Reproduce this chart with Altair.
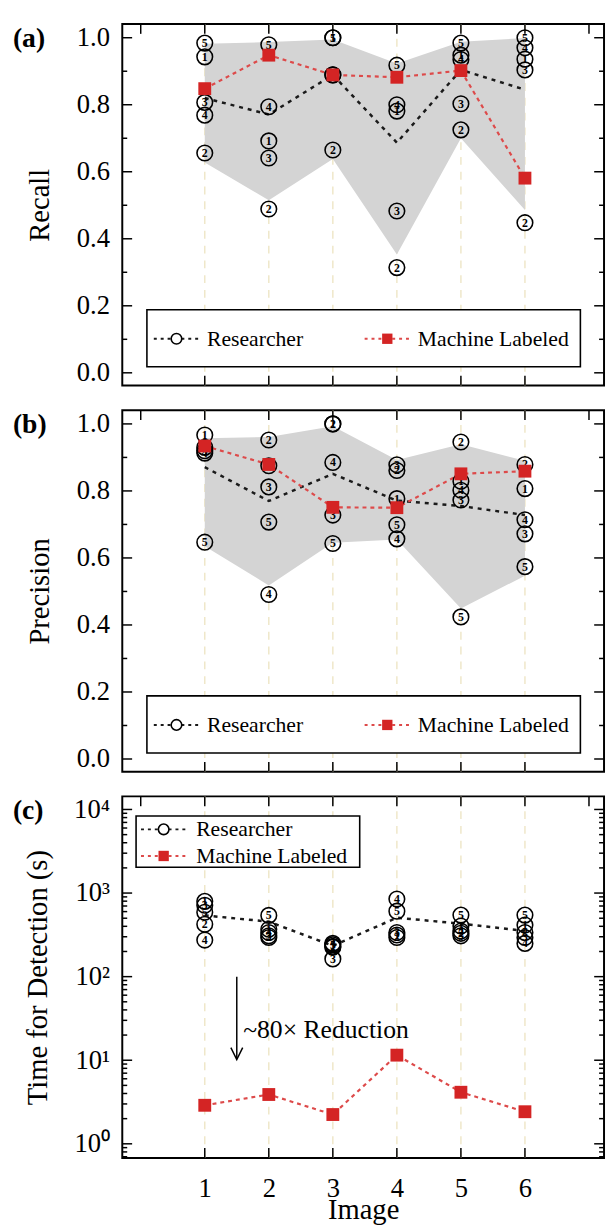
import altair as alt
import pandas as pd

# ---------------- data ----------------
images = [1, 2, 3, 4, 5, 6]

# (a) Recall, one list per researcher (value for images 1..6)
recall_r1 = [0.943, 0.692, 1.000, 0.781, 0.948, 0.936]
recall_r2 = [0.656, 0.489, 0.665, 0.314, 0.725, 0.448]
recall_r3 = [0.807, 0.641, 0.889, 0.483, 0.803, 0.904]
recall_r4 = [0.769, 0.794, 0.889, 0.800, 0.935, 0.970]
recall_r5 = [0.984, 0.979, 1.000, 0.918, 0.984, 1.000]
recall_mean = [0.820, 0.771, 0.889, 0.687, 0.904, 0.845]
recall_machine = [0.848, 0.948, 0.889, 0.882, 0.902, 0.581]
recall_band_low = [0.628, 0.515, 0.638, 0.353, 0.700, 0.486]
recall_band_high = [0.982, 0.987, 0.995, 0.923, 0.988, 0.999]

# (b) Precision
prec_r1 = [0.967, 0.875, 1.000, 0.777, 0.829, 0.807]
prec_r2 = [0.930, 0.952, 1.000, 0.861, 0.946, 0.879]
prec_r3 = [0.920, 0.812, 0.728, 0.878, 0.773, 0.672]
prec_r4 = [0.913, 0.491, 0.885, 0.657, 0.802, 0.714]
prec_r5 = [0.647, 0.707, 0.643, 0.699, 0.424, 0.574]
prec_mean = [0.871, 0.770, 0.851, 0.771, 0.755, 0.728]
prec_machine = [0.934, 0.879, 0.751, 0.750, 0.851, 0.859]
prec_band_low = [0.635, 0.518, 0.645, 0.655, 0.449, 0.547]
prec_band_high = [0.957, 0.961, 0.993, 0.892, 0.939, 0.890]

# (c) Time for detection (s)
time_r1 = [796, 369, 230, 315, 404, 415]
time_r2 = [423, 294, 225, 294, 330, 337]
time_r3 = [714, 308, 163, 337, 308, 294]
time_r4 = [274, 337, 250, 850, 352, 250]
time_r5 = [590, 540, 240, 607, 545, 545]
time_mean = [540, 455, 234, 507, 430, 352]
time_machine = [2.89, 3.89, 2.24, 11.5, 4.14, 2.42]

# tick positions
lin_major = [0.0, 0.2, 0.4, 0.6, 0.8, 1.0]
lin_minor = [0.1, 0.3, 0.5, 0.7, 0.9]
log_major = [1, 10, 100, 1000, 10000]
log_minor = [0.7, 0.8, 0.9, 2, 3, 4, 5, 6, 7, 8, 9, 20, 30, 40, 50, 60, 70, 80, 90,
             200, 300, 400, 500, 600, 700, 800, 900, 2000, 3000, 4000, 5000, 6000, 7000, 8000, 9000]
x_top_ticks = [0, 1, 2, 3, 4, 5, 6, 7]
x_bottom_ticks = [1, 2, 3, 4, 5, 6]
x_labels = [1, 2, 3, 4, 5, 6]

legend_labels = ["Researcher", "Machine Labeled"]

# ---------------- styling ----------------
W, H = 489, 367
FONT = "Liberation Serif"
BEIGE = "#efe7c9"
GREY = "#d4d4d4"
RED = "#d42424"
RED_LINE = "#dd4a4a"

xscale = alt.Scale(domain=[-0.288, 7.235], nice=False, zero=False)


def long_table(rs):
    rows = []
    for rid, vals in enumerate(rs, start=1):
        for img, v in zip(images, vals):
            rows.append({"image": img, "value": v, "rid": str(rid)})
    return pd.DataFrame(rows)


def panel(letter, ytitle, rs, mean, machine, band, yscale, yaxis, major, minor, legend, show_x):
    if show_x:
        xaxis = alt.Axis(values=x_labels, format="d", ticks=False, domain=False, grid=False,
                         labelFont=FONT, labelFontSize=27, labelColor="black", labelPadding=18,
                         titleFont=FONT, titleFontSize=29, titleFontWeight="normal", titleColor="black",
                         titleY=61, titleBaseline="alphabetic")
        xtitle = "Image"
    else:
        xaxis = None
        xtitle = None

    def X(field):
        return alt.X(field, type="quantitative", scale=xscale, axis=xaxis, title=xtitle)

    def Y(field):
        return alt.Y(field, type="quantitative", scale=yscale, axis=yaxis, title=ytitle)

    layers = []
    img_df = pd.DataFrame({"image": images})
    layers.append(alt.Chart(img_df).mark_rule(color=BEIGE, strokeDash=[8, 7], strokeWidth=1.5)
                  .encode(x=X("image"), y=alt.value(0), y2=alt.value(H)))
    if band is not None:
        band_df = pd.DataFrame({"image": images, "low": band[0], "high": band[1]})
        layers.append(alt.Chart(band_df).mark_area(color=GREY, opacity=1)
                      .encode(x=X("image"), y=Y("low"), y2=alt.Y2("high")))
    mean_df = pd.DataFrame({"image": images, "value": mean})
    layers.append(alt.Chart(mean_df).mark_line(color="#1a1a1a", strokeDash=[4, 5], strokeWidth=2.5)
                  .encode(x=X("image"), y=Y("value")))
    mach_df = pd.DataFrame({"image": images, "value": machine})
    layers.append(alt.Chart(mach_df).mark_line(color=RED_LINE, strokeDash=[4, 4], strokeWidth=2.2)
                  .encode(x=X("image"), y=Y("value")))
    ldf = long_table(rs)
    layers.append(alt.Chart(ldf).mark_point(shape="circle", filled=False, color="black",
                                            strokeWidth=1.6, size=250, opacity=1)
                  .encode(x=X("image"), y=Y("value")))
    layers.append(alt.Chart(ldf).mark_text(font=FONT, fontSize=12, fontWeight="bold", color="black",
                                           baseline="middle", align="center")
                  .encode(x=X("image"), y=Y("value"), text="rid:N"))
    layers.append(alt.Chart(mach_df).mark_point(shape="square", filled=True, color=RED, size=170, opacity=1)
                  .encode(x=X("image"), y=Y("value")))

    # inward frame ticks
    maj_df = pd.DataFrame({"v": major})
    min_df = pd.DataFrame({"v": minor})
    tick_style = dict(color="black", strokeWidth=1.5)
    layers.append(alt.Chart(maj_df).mark_rule(**tick_style).encode(y=Y("v"), x=alt.value(0), x2=alt.value(10)))
    layers.append(alt.Chart(maj_df).mark_rule(**tick_style).encode(y=Y("v"), x=alt.value(W - 10), x2=alt.value(W)))
    layers.append(alt.Chart(min_df).mark_rule(**tick_style).encode(y=Y("v"), x=alt.value(0), x2=alt.value(5)))
    layers.append(alt.Chart(min_df).mark_rule(**tick_style).encode(y=Y("v"), x=alt.value(W - 5), x2=alt.value(W)))
    top_df = pd.DataFrame({"t": x_top_ticks})
    bot_df = pd.DataFrame({"t": x_bottom_ticks})
    layers.append(alt.Chart(top_df).mark_rule(**tick_style).encode(x=X("t"), y=alt.value(0), y2=alt.value(10)))
    layers.append(alt.Chart(bot_df).mark_rule(**tick_style).encode(x=X("t"), y=alt.value(H - 10), y2=alt.value(H)))

    # legend (drawn by hand)
    one = pd.DataFrame({"a": [0]})
    bx0, bx1, by0, by1, rows = legend
    layers.append(alt.Chart(one).mark_rect(fill="white", stroke="black", strokeWidth=1.6)
                  .encode(x=alt.value(bx0), x2=alt.value(bx1), y=alt.value(by0), y2=alt.value(by1)))
    for (lx0, lx1, mx, tx, ly), lab in zip(rows, legend_labels):
        is_r = lab == "Researcher"
        layers.append(alt.Chart(one).mark_rule(color="#1a1a1a" if is_r else RED_LINE,
                                               strokeDash=[3, 4], strokeWidth=2)
                      .encode(x=alt.value(lx0), x2=alt.value(lx1), y=alt.value(ly)))
        if is_r:
            layers.append(alt.Chart(one).mark_point(shape="circle", filled=False, fill="white", color="black",
                                                    strokeWidth=1.6, size=115, opacity=1)
                          .encode(x=alt.value(mx), y=alt.value(ly)))
        else:
            layers.append(alt.Chart(one).mark_point(shape="square", filled=True, color=RED, size=110, opacity=1)
                          .encode(x=alt.value(mx), y=alt.value(ly)))
        tdf = pd.DataFrame({"label": [lab]})
        layers.append(alt.Chart(tdf).mark_text(font=FONT, fontSize=22, color="black", align="left",
                                               baseline="middle")
                      .encode(x=alt.value(tx), y=alt.value(ly), text="label:N"))

    # panel letter
    let_df = pd.DataFrame({"label": [letter]})
    layers.append(alt.Chart(let_df).mark_text(font=FONT, fontSize=28, fontWeight="bold", color="black",
                                              align="left", baseline="middle")
                  .encode(x=alt.value(-111), y=alt.value(15), text="label:N"))

    if show_x:
        ann_df = pd.DataFrame({"label": ["~80\u00d7 Reduction"]})
        layers.append(alt.Chart(ann_df).mark_rule(color="black", strokeWidth=1.5)
                      .encode(x=alt.datum(1.5), y=alt.datum(100), y2=alt.datum(10.4)))
        layers.append(alt.Chart(ann_df).mark_point(shape="M-1.2,-2.4L0,0L1.2,-2.4", filled=False,
                                                   color="black", strokeWidth=1.5, size=100, opacity=1)
                      .encode(x=alt.datum(1.5), y=alt.datum(10.2)))
        layers.append(alt.Chart(ann_df).mark_text(font=FONT, fontSize=26, color="black", align="left",
                                                  baseline="middle")
                      .encode(x=alt.datum(1.6), y=alt.datum(23), text="label:N"))

    return alt.layer(*layers).properties(width=W, height=H)


def ylin_axis():
    return alt.Axis(values=lin_major, format=".1f", ticks=False, domain=False, grid=False,
                    labelFont=FONT, labelFontSize=27, labelColor="black", labelPadding=13,
                    titleFont=FONT, titleFontSize=29, titleFontWeight="normal", titleColor="black",
                    titleX=-84, titleY=H / 2, titleAngle=270, titleAlign="center", titleBaseline="middle")


ylog_axis = alt.Axis(values=log_major, ticks=False, domain=False, grid=False,
                     labelExpr="'10' + ['\u2070','\u00b9','\u00b2','\u00b3','\u2074'][round(log(datum.value)/LN10)]",
                     labelFont=FONT, labelFontSize=27, labelColor="black", labelPadding=13,
                     titleFont=FONT, titleFontSize=29, titleFontWeight="normal", titleColor="black",
                     titleX=-86, titleY=H / 2, titleAngle=270, titleAlign="center", titleBaseline="middle")

lin_scale = alt.Scale(domain=[-0.038, 1.041], nice=False, zero=False)
log_scale = alt.Scale(type="log", domain=[0.678, 14350], nice=False)

leg_ab = (25, 465, 290, 348, [(32, 79, 55, 86, 319.5), (246, 292, 269, 300, 319.5)])
leg_c = (14, 241, 20, 72, [(19, 67, 42, 75, 33.5), (19, 67, 42, 75, 60.5)])

pa = panel("(a)", "Recall", [recall_r1, recall_r2, recall_r3, recall_r4, recall_r5],
           recall_mean, recall_machine, (recall_band_low, recall_band_high),
           lin_scale, ylin_axis(), lin_major, lin_minor, leg_ab, False)
pb = panel("(b)", "Precision", [prec_r1, prec_r2, prec_r3, prec_r4, prec_r5],
           prec_mean, prec_machine, (prec_band_low, prec_band_high),
           lin_scale, ylin_axis(), lin_major, lin_minor, leg_ab, False)
pc = panel("(c)", "Time for Detection (s)", [time_r1, time_r2, time_r3, time_r4, time_r5],
           time_mean, time_machine, None,
           log_scale, ylog_axis, log_major, log_minor, leg_c, True)

chart = (alt.vconcat(pa, pb, pc, spacing=21)
         .properties(padding={"left": 4, "top": 5, "right": 0, "bottom": 0}, background="white")
         .configure_view(stroke="black", strokeWidth=2)
         .configure_axis(grid=False))

chart.save("out.html", embed_options={"renderer": "svg", "actions": False})
